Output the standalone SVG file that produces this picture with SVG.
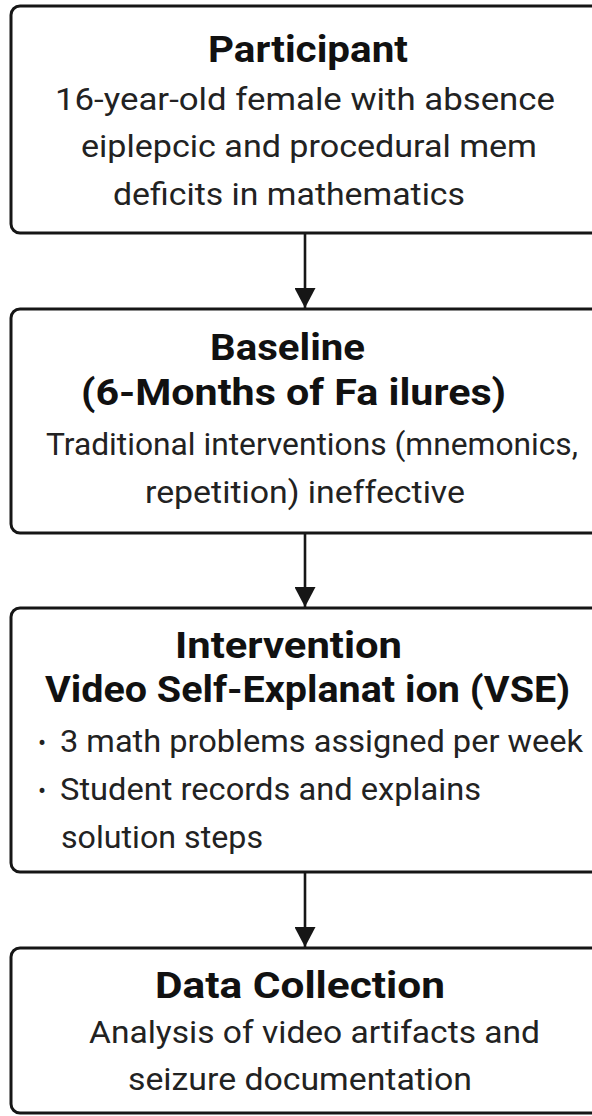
<svg xmlns="http://www.w3.org/2000/svg" width="592" height="1116" viewBox="0 0 592 1116">
<style>
.box{fill:#ffffff;stroke:#161616;stroke-width:3}
.t{font-family:Roboto,"Liberation Sans",sans-serif;font-weight:700;font-size:36px;fill:#111111}
.b{font-family:Roboto,"Liberation Sans",sans-serif;font-weight:400;font-size:32px;fill:#222222}
.dot{font-family:Roboto,"Liberation Sans",sans-serif;font-size:24px;fill:#222222}
.conn{stroke:#161616;stroke-width:2.6;fill:none}
</style>
<defs>
<marker id="arrow" viewBox="0 0 20 21" refX="20" refY="10.5" markerWidth="20" markerHeight="21" markerUnits="userSpaceOnUse" orient="auto">
<path d="M0,0 L20,10.5 L0,21 z" fill="#161616"/>
</marker>
</defs>
<rect x="0" y="0" width="592" height="1116" fill="#ffffff"/>
<g id="connectors">
<line class="conn" x1="305" y1="234" x2="305" y2="308" marker-end="url(#arrow)"/>
<line class="conn" x1="305" y1="534" x2="305" y2="607" marker-end="url(#arrow)"/>
<line class="conn" x1="305" y1="873" x2="305" y2="947" marker-end="url(#arrow)"/>
</g>
<g id="participant">
<rect class="box" x="11" y="6" width="620" height="227" rx="9"/>
<text class="t" x="208" y="62" textLength="200" lengthAdjust="spacingAndGlyphs">Participant</text>
<text class="b" x="55" y="110" textLength="500" lengthAdjust="spacingAndGlyphs">16-year-old female with absence</text>
<text class="b" x="81" y="157" textLength="456" lengthAdjust="spacingAndGlyphs">eiplepcic and procedural mem</text>
<text class="b" x="113" y="205" textLength="352" lengthAdjust="spacingAndGlyphs">deficits in mathematics</text>
</g>
<g id="baseline">
<rect class="box" x="11" y="309" width="620" height="224" rx="9"/>
<text class="t" x="210" y="360" textLength="155" lengthAdjust="spacingAndGlyphs">Baseline</text>
<text class="t" x="81" y="405" textLength="425" lengthAdjust="spacingAndGlyphs">(6-Months of Fa ilures)</text>
<text class="b" x="46" y="455" textLength="532" lengthAdjust="spacingAndGlyphs">Traditional interventions (mnemonics,</text>
<text class="b" x="145" y="503" textLength="320" lengthAdjust="spacingAndGlyphs">repetition) ineffective</text>
</g>
<g id="intervention">
<rect class="box" x="11" y="608" width="620" height="264" rx="9"/>
<text class="t" x="175" y="658" textLength="227" lengthAdjust="spacingAndGlyphs">Intervention</text>
<text class="t" x="45" y="702" textLength="525" lengthAdjust="spacingAndGlyphs">Video Self-Explanat ion (VSE)</text>
<text class="dot" x="38" y="751">•</text>
<text class="b" x="60" y="752" textLength="523" lengthAdjust="spacingAndGlyphs">3 math problems assigned per week</text>
<text class="dot" x="38" y="799">•</text>
<text class="b" x="60" y="800" textLength="421" lengthAdjust="spacingAndGlyphs">Student records and explains</text>
<text class="b" x="61" y="848" textLength="202" lengthAdjust="spacingAndGlyphs">solution steps</text>
</g>
<g id="data-collection">
<rect class="box" x="11" y="948" width="620" height="165" rx="9"/>
<text class="t" x="155" y="998" textLength="290" lengthAdjust="spacingAndGlyphs">Data Collection</text>
<text class="b" x="89" y="1043" textLength="451" lengthAdjust="spacingAndGlyphs">Analysis of video artifacts and</text>
<text class="b" x="128" y="1090" textLength="344" lengthAdjust="spacingAndGlyphs">seizure documentation</text>
</g>
</svg>
